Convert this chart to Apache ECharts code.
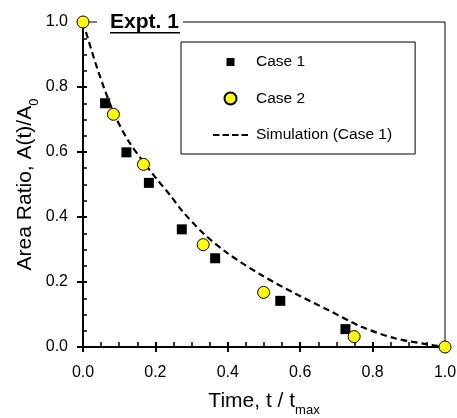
<!DOCTYPE html>
<html>
<head>
<meta charset="utf-8">
<script src="https://cdn.jsdelivr.net/npm/echarts@6/dist/echarts.min.js"></script>
<style>
html,body{margin:0;padding:0;background:#fff;}
#chart{width:457px;height:418px;}
</style>
</head>
<body>
<div id="chart"></div>
<script>
// ---- data ----
const case1X = [0.061, 0.120, 0.182, 0.273, 0.365, 0.545, 0.725];
const case1Y = [0.750, 0.599, 0.505, 0.362, 0.273, 0.142, 0.055];
const case2X = [0.000, 0.084, 0.167, 0.332, 0.499, 0.749, 1.000];
const case2Y = [1.000, 0.716, 0.562, 0.315, 0.168, 0.032, 0.000];
const simX = [0, 0.04, 0.085, 0.125, 0.17, 0.205, 0.24, 0.273, 0.332, 0.40, 0.4925, 0.585, 0.677, 0.769, 0.861, 0.953, 1.0];
const simY = [1.0, 0.855, 0.72, 0.635, 0.565, 0.515, 0.468, 0.42, 0.35, 0.288, 0.2215, 0.165, 0.114, 0.0625, 0.027, 0.008, 0.0];
const seriesNames = ['Case 1', 'Case 2', 'Simulation (Case 1)'];
const axisMin = 0, axisMax = 1.0, axisStep = 0.2;
const xTitle = '{m|Time, t / t}{sub|max}';
const yTitle = '{m|Area Ratio, A(t)/A}{sub|0}';
const panelTitle = 'Expt. 1';

const zip = (a, b) => a.map((v, i) => [v, b[i]]);
const FONT = '"Liberation Sans", Arial, sans-serif';

const chart = echarts.init(document.getElementById('chart'), null, {renderer: 'canvas'});

const mainAxis = (isX) => ({
  type: 'value', min: axisMin, max: axisMax, interval: axisStep,
  axisLine: {show: true, onZero: false, lineStyle: {color: '#000', width: 2}},
  axisTick: {show: true, inside: false, length: isX ? 5 : 6, lineStyle: {color: '#000', width: 2}},
  minorTick: {show: false},
  splitLine: {show: false},
  axisLabel: {show: true, color: '#000', fontSize: 16, fontFamily: FONT, margin: isX ? 18 : 15,
    formatter: v => v.toFixed(1)},
  nameLocation: 'middle',
  nameMoveOverlap: false,
  nameTextStyle: {color: '#000', fontSize: 21, fontFamily: FONT,
    rich: {
      m: {fontSize: 21, fontFamily: FONT, color: '#000', verticalAlign: 'top', lineHeight: 22},
      sub: {fontSize: 13, fontFamily: FONT, color: '#000', verticalAlign: 'top', lineHeight: 13, padding: [13, 0, 0, 0]}
    }}
});
const innerAxis = (isX) => ({
  type: 'value', min: axisMin, max: axisMax, interval: axisStep,
  axisLine: {show: false, onZero: false},
  axisTick: {show: true, inside: true, length: isX ? 5 : 4, lineStyle: {color: '#000', width: 2}},
  minorTick: {show: true, splitNumber: 4, length: isX ? 5 : 4, lineStyle: {color: '#000', width: 1.5}},
  splitLine: {show: false},
  axisLabel: {show: false}
});

const xMain = Object.assign(mainAxis(true), {position: 'bottom', name: xTitle, nameGap: 44});
const yMain = Object.assign(mainAxis(false), {position: 'left', name: yTitle, nameGap: 46});
const xInner = Object.assign(innerAxis(true), {position: 'bottom'});
const yInner = Object.assign(innerAxis(false), {position: 'left'});

const dashIcon = 'path://M0,0 M35,14 M0,5.9 h6.5 v2.2 h-6.5 Z M9.5,5.9 h6.5 v2.2 h-6.5 Z M19,5.9 h6.5 v2.2 h-6.5 Z M28.5,5.9 h6.5 v2.2 h-6.5 Z';

const option = {
  animation: false,
  backgroundColor: '#fff',
  textStyle: {fontFamily: FONT},
  grid: {left: 83, right: 12, top: 22, bottom: 71, show: true, borderColor: '#000', borderWidth: 1,
    backgroundColor: 'transparent', containLabel: false, outerBoundsMode: 'none'},
  xAxis: [xMain, xInner],
  yAxis: [yMain, yInner],
  legend: {
    orient: 'vertical', left: 181, top: 42,
    padding: [12, 23, 11, 32],
    itemGap: 20.5, itemWidth: 35, itemHeight: 14,
    borderColor: '#000', borderWidth: 1, backgroundColor: '#fff',
    textStyle: {color: '#000', fontSize: 15.5, fontFamily: FONT, padding: [0, 0, 0, 3]},
    data: [
      {name: seriesNames[0], icon: 'path://M0,0 M14,14 M3,3 L11,3 L11,11 L3,11 Z'},
      {name: seriesNames[1], icon: 'path://M0,0 M14,14 M13,7 A6,6 0 1 1 1,7 A6,6 0 1 1 13,7 Z'},
      {name: seriesNames[2], icon: dashIcon, itemStyle: {color: '#000', borderWidth: 0}}
    ]
  },
  graphic: [
    {type: 'rect', left: 97, top: 17, shape: {width: 86, height: 10}, style: {fill: '#fff'}, z: 100},
    {type: 'text', left: 110, top: 12, z: 101,
      style: {text: panelTitle, fill: '#000', font: 'bold 21px "Liberation Sans", Arial, sans-serif'}},
    {type: 'rect', left: 110, top: 32, shape: {width: 70, height: 1.6}, style: {fill: '#000'}, z: 101}
  ],
  series: [
    {
      name: seriesNames[2], type: 'line', xAxisIndex: 0, yAxisIndex: 0,
      data: zip(simX, simY), smooth: 0.3, showSymbol: false, symbol: 'none',
      lineStyle: {color: '#000', width: 2.2, type: [6.5, 4]},
      itemStyle: {color: '#000'}, z: 3
    },
    {
      name: seriesNames[0], type: 'scatter', xAxisIndex: 0, yAxisIndex: 0,
      data: zip(case1X, case1Y), symbol: 'rect', symbolSize: 10,
      itemStyle: {color: '#000', opacity: 1}, z: 4
    },
    {
      name: seriesNames[1], type: 'scatter', xAxisIndex: 0, yAxisIndex: 0,
      data: zip(case2X, case2Y), symbol: 'circle', symbolSize: 12, clip: false,
      itemStyle: {color: '#ffff00', borderColor: '#000', borderWidth: 1, opacity: 1}, z: 5
    }
  ]
};
chart.setOption(option);
</script>
</body>
</html>
